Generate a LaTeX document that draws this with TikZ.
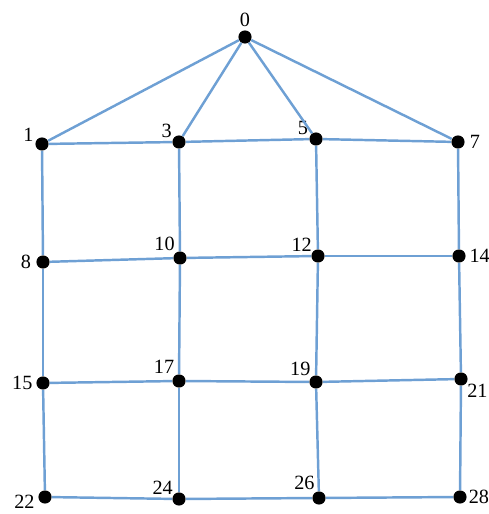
\documentclass[tikz,border=0pt]{standalone}
\usepackage{fontspec}
\setmainfont{Liberation Serif}
\definecolor{edgeblue}{RGB}{110,160,212}
\begin{document}
\begin{tikzpicture}[every node/.style={circle,fill=black,inner sep=0pt,minimum size=7.5pt},every label/.style={fill=none,draw=none,font=\fontsize{11.5}{13}\selectfont,inner sep=0.5pt,minimum size=0pt},link/.style={draw=edgeblue,line width=1.4pt}]
\useasboundingbox (0,0) rectangle (9.76,10.28);
\node[label=90:0] (n0) at (4.90,9.54) {};
\node[label=160:1] (n1) at (0.84,7.40) {};\node[label=140:3] (n3) at (3.58,7.44) {};
\node[label=150:5] (n5) at (6.32,7.50) {};\node[label=0:7] (n7) at (9.16,7.44) {};
\node[label=180:8] (n8) at (0.86,5.04) {};\node[label=145:10] (n10) at (3.60,5.12) {};
\node[label=165:12] (n12) at (6.36,5.16) {};\node[label=0:14] (n14) at (9.18,5.16) {};
\node[label=180:15] (n15) at (0.86,2.62) {};\node[label=140:17] (n17) at (3.58,2.66) {};
\node[label=150:19] (n19) at (6.32,2.64) {};\node[label=-15:21] (n21) at (9.22,2.70) {};
\node[label={[yshift=-2.5pt]180:22}] (n22) at (0.90,0.34) {};\node[label=165:24] (n24) at (3.58,0.30) {};
\node[label=135:26] (n26) at (6.38,0.32) {};\node[label={[label distance=-1pt]0:28}] (n28) at (9.20,0.34) {};
\foreach \j in {1,3,5,7}{\draw[link] (n0)--(n\j);}
\foreach \i/\j in {1/3,3/5,5/7,8/10,10/12,12/14,15/17,17/19,19/21,22/24,24/26,26/28}{\draw[link] (n\i)--(n\j);}
\foreach \i/\j in {1/8,8/15,15/22,3/10,10/17,17/24,5/12,12/19,19/26,7/14,14/21,21/28}{\draw[link] (n\i)--(n\j);}
\end{tikzpicture}
\end{document}
